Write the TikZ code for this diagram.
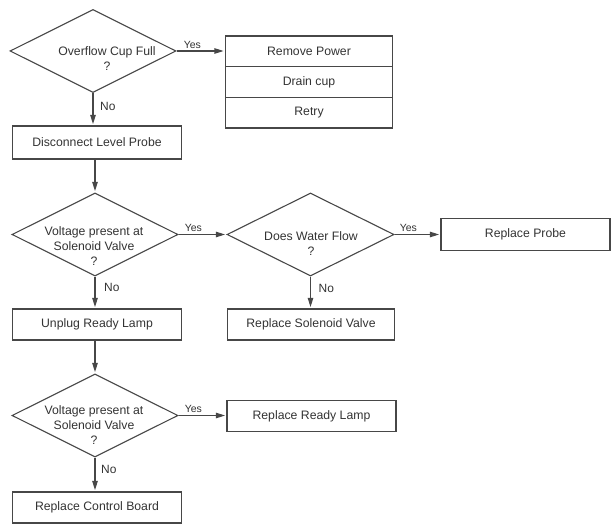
\documentclass[tikz,border=0pt]{standalone}
\usepackage{fontspec}
\setmainfont{Liberation Sans}
\usetikzlibrary{shapes.geometric,arrows.meta,calc}
\begin{document}
\begin{tikzpicture}[x=1bp,y=-1bp,
  ln/.style={draw=black!72, line width=1.1bp},
  txt/.style={font=\fontsize{12.3}{15}\selectfont, text=black!80, inner sep=0pt, align=center},
  dia/.style={ln, diamond, minimum width=166bp, minimum height=83bp, inner sep=0pt},
  box/.style={ln, rectangle, minimum width=169bp, minimum height=32bp, inner sep=0pt, txt},
  rbox/.style={box, minimum width=167bp},
  lblY/.style={font=\fontsize{10.5}{12}\selectfont, text=black!80, inner sep=0pt, anchor=south west},
  lblN/.style={font=\fontsize{12}{14}\selectfont, text=black!80, inner sep=0pt, anchor=west},
  arr/.style={ln, -{Triangle[length=9bp,width=5.5bp]}, shorten >=1.5bp}
]
\useasboundingbox (0,0) rectangle (612,526);

% left column
\node[dia] (d1) at (93,51) {};
\node[txt] (d1t) at (107,58.5) {Overflow Cup Full\\?};
\node[box, minimum height=33bp] (dlp) at (97,142.5) {Disconnect Level Probe};
\node[dia] (d2) at (95,234.5) {};
\node[txt] (d2t) at (94,246.5) {Voltage present at\\Solenoid Valve\\?};
\node[box, minimum height=31bp] (url) at (97,324.5) {Unplug Ready Lamp};
\node[dia] (d4) at (95,415.5) {};
\node[txt] (d4t) at (94,425) {Voltage present at\\Solenoid Valve\\?};
\node[box, minimum height=31bp] (rcb) at (97,507.5) {Replace Control Board};

% stacked box
\node[rbox, minimum height=30.67bp] (rp) at (309,51.33) {Remove Power};
\node[rbox, minimum height=30.67bp] (dc) at (309,82) {Drain cup};
\node[rbox, minimum height=30.67bp] (rt) at (309,112.67) {Retry};

% right column
\node[dia, minimum width=167bp] (d3) at (310.5,234.5) {};
\node[txt] (d3t) at (311,243.5) {Does Water Flow\\?};
\node[rbox, minimum height=31bp] (rsv) at (311,324.5) {Replace Solenoid Valve};
\node[rbox, minimum width=169bp, minimum height=31bp] (rrl) at (311.5,416) {Replace Ready Lamp};
\node[box] (rpb) at (525.5,234.5) {Replace Probe};

% connectors
\draw[arr] (d1.east) -- (d1.east -| rp.west);
\node[lblY] (y1) at ($(d1.east)+(7,-2)$) {Yes};
\draw[arr] (d1.south) -- (d1.south |- dlp.north);
\node[lblN] (n1) at ($(d1.south)+(7,13)$) {No};

\draw[arr] (dlp.south -| d2.south) -- (d2.north);

\draw[arr] (d2.east) -- (d3.west);
\node[lblY] (y2) at ($(d2.east)+(6,-3)$) {Yes};
\draw[arr] (d2.south) -- (d2.south |- url.north);
\node[lblN] (n2) at ($(d2.south)+(9,11)$) {No};

\draw[arr] (d3.east) -- (d3.east -| rpb.west);
\node[lblY] (y3) at ($(d3.east)+(5,-3)$) {Yes};
\draw[arr] (d3.south) -- (d3.south |- rsv.north);
\node[lblN] (n3) at ($(d3.south)+(8,12)$) {No};

\draw[arr] (url.south -| d4.north) -- (d4.north);

\draw[arr] (d4.east) -- (d4.east -| rrl.west);
\node[lblY] (y4) at ($(d4.east)+(6,-3)$) {Yes};
\draw[arr] (d4.south) -- (d4.south |- rcb.north);
\node[lblN] (n4) at ($(d4.south)+(6,12)$) {No};
\end{tikzpicture}
\end{document}
